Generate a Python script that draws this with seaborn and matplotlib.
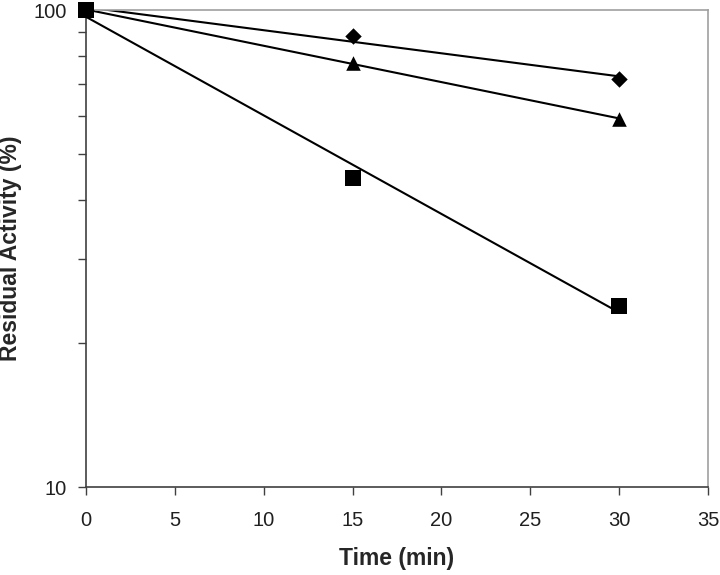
import numpy as np
import pandas as pd
import seaborn as sns
import matplotlib
matplotlib.use('Agg')
import matplotlib.pyplot as plt
from matplotlib.ticker import FixedLocator, NullFormatter

time_min = [0, 15, 30]
diamond_vals = [100, 88.2, 71.6]
triangle_vals = [100, 77.5, 59.1]
square_vals = [100, 44.4, 24.0]

series_names = ['diamond', 'triangle', 'square']
markers = {'diamond': 'D', 'triangle': '^', 'square': 's'}
marker_sizes = {'diamond': 70, 'triangle': 110, 'square': 120}

sns.set_style('white')
plt.rcParams['font.family'] = ['Liberation Sans', 'DejaVu Sans']

points = pd.DataFrame({
    'time': time_min * 3,
    'activity': diamond_vals + triangle_vals + square_vals,
    'series': [s for s in series_names for _ in time_min],
})

# exponential trendlines (least squares on log values), like Excel
fits = []
for name, grp in points.groupby('series', sort=False):
    b, a = np.polyfit(grp['time'], np.log(grp['activity']), 1)
    xs = np.linspace(0, 30, 50)
    fits.append(pd.DataFrame({'time': xs, 'activity': np.exp(a + b * xs), 'series': name}))
fits = pd.concat(fits)

fig = plt.figure(figsize=(7.2, 5.75), dpi=100)
ax = fig.add_axes([0.1194, 0.153, 0.8639, 0.8296])

sns.lineplot(data=fits, x='time', y='activity', units='series', estimator=None,
             color='black', linewidth=1.5, ax=ax, legend=False)
for name in series_names:
    sub = points[points['series'] == name]
    sns.scatterplot(data=sub, x='time', y='activity', marker=markers[name],
                    s=marker_sizes[name], color='black', edgecolor='black',
                    linewidth=0, ax=ax, legend=False, zorder=3, clip_on=False)

ax.set_yscale('log')
ax.set_ylim(10, 100)
ax.set_xlim(0, 35)
ax.set_xticks([0, 5, 10, 15, 20, 25, 30, 35])
ax.yaxis.set_major_locator(FixedLocator([10, 100]))
ax.set_yticklabels(['10', '100'])
ax.yaxis.set_minor_locator(FixedLocator([20, 30, 40, 50, 60, 70, 80, 90]))
ax.yaxis.set_minor_formatter(NullFormatter())

ax.tick_params(axis='both', which='major', direction='out', length=6, width=1,
               color='#404040', labelsize=14.5, labelcolor='#202020',
               left=True, bottom=True)
ax.tick_params(axis='x', which='major', pad=11)
ax.tick_params(axis='y', which='major', pad=8)
ax.tick_params(axis='y', which='minor', direction='out', length=6, width=1,
               color='#404040', left=True)

ax.set_xlabel('Time (min)', fontsize=16.5, fontweight='bold')
ax.set_ylabel('Residual Activity (%)', fontsize=16.5, fontweight='bold')
ax.xaxis.label.set_va('center')
ax.yaxis.label.set_va('center')
ax.xaxis.set_label_coords(0.5, -0.149)
ax.yaxis.set_label_coords(-0.122, 0.5)

for side in ['left', 'bottom']:
    ax.spines[side].set_color('#404040')
    ax.spines[side].set_linewidth(1.2)
for side in ['top', 'right']:
    ax.spines[side].set_visible(True)
    ax.spines[side].set_color('#a0a0a0')
    ax.spines[side].set_linewidth(1.2)

fig.savefig('out.png', dpi=100)
